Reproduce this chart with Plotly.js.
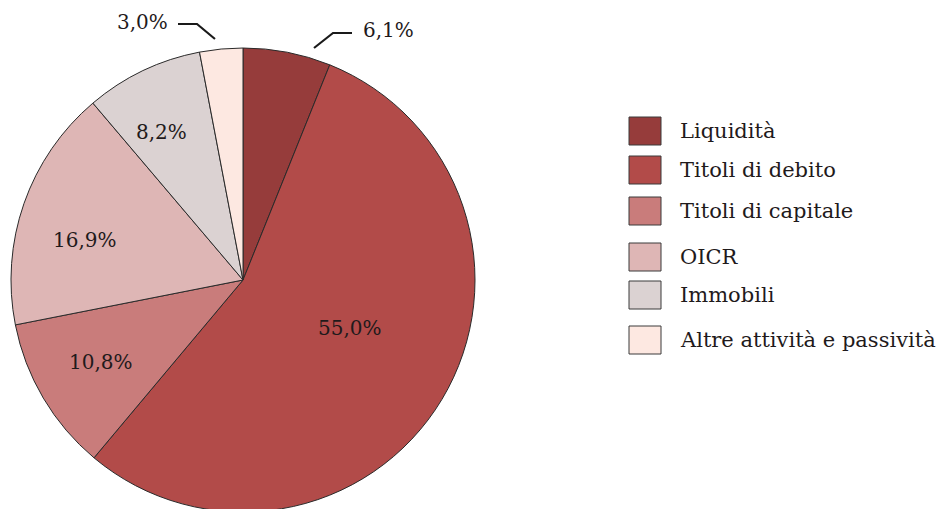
<!DOCTYPE html>
<html>
<head>
<meta charset="utf-8">
<script src="https://cdn.plot.ly/plotly-3.0.1.min.js"></script>
<style>
  html, body { margin: 0; padding: 0; background: #fff; overflow: hidden; }
  #wrap { width: 946px; height: 509px; overflow: hidden; }
  #chart { width: 946px; height: 520px; }
</style>
</head>
<body>
<div id="wrap"><div id="chart"></div></div>
<script>
// ---- data ----
const labels = ['Liquidità', 'Titoli di debito', 'Titoli di capitale', 'OICR', 'Immobili', 'Altre attività e passività'];
const values = [6.1, 55.0, 10.8, 16.9, 8.2, 3.0];
const colors = ['#963C3B', '#B24B49', '#C97C7B', '#DEB6B5', '#DBD2D2', '#FDE8E1'];

// ---- layout constants (pixels) ----
const W = 946, H = 520;
const FONT = 'DejaVu Serif, serif';
const TXT = '#1F1A1B';
const px = x => x / W;
const py = y => 1 - y / H;
const fmt = v => v.toFixed(1).replace('.', ',') + '%';

const pie = {cx: 243, cy: 280, r: 232};
// radial position (fraction of radius) of inside labels; null = outside label
const labelRadius = [null, 0.50, 0.71, 0.70, 0.73, null];
// small pixel nudges of the inside labels
const labelNudge = [[0, 0], [8, -12], [0, -2], [-5, 14], [-8, 5], [0, 0]];

const legendY = [131, 170, 211, 257, 295, 340];
const legendBox = {x0: 629, x1: 661, h: 28, textX: 678};

const shapes = [];
const annotations = [];

// legend drawn manually
labels.forEach((lab, i) => {
  shapes.push({
    type: 'rect', xref: 'paper', yref: 'paper',
    x0: px(legendBox.x0), x1: px(legendBox.x1),
    y0: py(legendY[i] + legendBox.h / 2), y1: py(legendY[i] - legendBox.h / 2),
    fillcolor: colors[i], line: {color: '#3a3a3a', width: 1}
  });
  annotations.push({
    xref: 'paper', yref: 'paper', x: px(legendBox.textX), y: py(legendY[i]),
    xanchor: 'left', yanchor: 'middle', showarrow: false,
    text: lab, font: {family: FONT, size: 21, color: TXT}
  });
});

// inside labels at the mid-angle of each slice (clockwise from 12 o'clock)
const total = values.reduce((a, b) => a + b, 0);
let cum = 0;
values.forEach((v, i) => {
  const mid = (cum + v / 2) / total * 2 * Math.PI;
  cum += v;
  if (labelRadius[i] === null) return;
  const rr = pie.r * labelRadius[i];
  annotations.push({
    xref: 'paper', yref: 'paper',
    x: px(pie.cx + rr * Math.sin(mid) + labelNudge[i][0]),
    y: py(pie.cy - rr * Math.cos(mid) + labelNudge[i][1]),
    xanchor: 'center', yanchor: 'middle', showarrow: false,
    text: fmt(v), font: {family: FONT, size: 20, color: TXT}
  });
});

// outside labels with elbow leader lines
const leaders = [
  {i: 0, path: [[314, 48], [333, 33], [352, 33]], tx: 361, ty: 30, anchor: 'left'},
  {i: 5, path: [[215, 39], [197, 24], [178, 24]], tx: 170, ty: 22, anchor: 'right'}
];
leaders.forEach(l => {
  const d = l.path.map((p, k) => (k ? 'L' : 'M') + px(p[0]) + ',' + py(p[1])).join(' ');
  shapes.push({type: 'path', xref: 'paper', yref: 'paper', path: d,
    line: {color: '#1a1a1a', width: 2.2}});
  annotations.push({
    xref: 'paper', yref: 'paper', x: px(l.tx), y: py(l.ty),
    xanchor: l.anchor, yanchor: 'middle', showarrow: false,
    text: fmt(values[l.i]), font: {family: FONT, size: 20, color: TXT}
  });
});

const trace = {
  type: 'pie',
  labels: labels,
  values: values,
  sort: false,
  direction: 'clockwise',
  rotation: 0,
  marker: {colors: colors, line: {color: '#2a2a2a', width: 1}},
  textinfo: 'none',
  domain: {x: [px(pie.cx - pie.r), px(pie.cx + pie.r)], y: [py(pie.cy + pie.r), py(pie.cy - pie.r)]},
  hoverinfo: 'label+percent',
  showlegend: false
};

const layout = {
  width: W, height: H,
  margin: {l: 0, r: 0, t: 0, b: 0},
  paper_bgcolor: '#fff',
  separators: ',.',
  showlegend: false,
  font: {family: FONT, size: 20, color: TXT},
  shapes: shapes,
  annotations: annotations
};

Plotly.newPlot('chart', [trace], layout, {displayModeBar: false, staticPlot: true});
</script>
</body>
</html>
